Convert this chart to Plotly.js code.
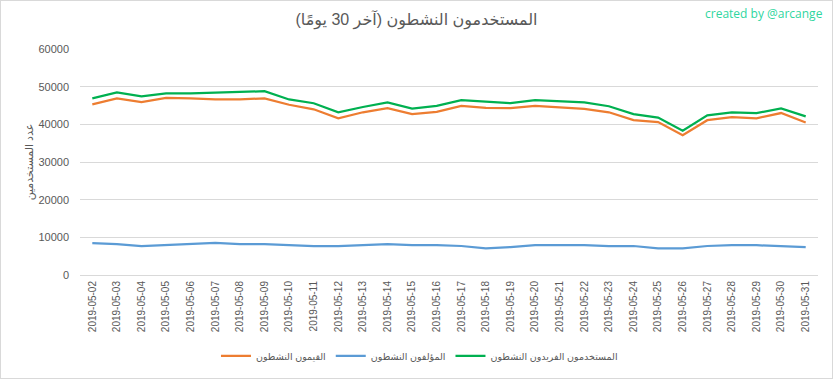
<!DOCTYPE html>
<html>
<head>
<meta charset="utf-8">
<script src="https://cdn.plot.ly/plotly-3.0.1.min.js"></script>
<style>
  html, body { margin: 0; padding: 0; background: #fff; }
  #chart { width: 831px; height: 377px; border: 1px solid #d9d9d9; }
</style>
</head>
<body>
<div id="chart"></div>
<script>
const dates = ["2019-05-02","2019-05-03","2019-05-04","2019-05-05","2019-05-06","2019-05-07","2019-05-08","2019-05-09","2019-05-10","2019-05-11","2019-05-12","2019-05-13","2019-05-14","2019-05-15","2019-05-16","2019-05-17","2019-05-18","2019-05-19","2019-05-20","2019-05-21","2019-05-22","2019-05-23","2019-05-24","2019-05-25","2019-05-26","2019-05-27","2019-05-28","2019-05-29","2019-05-30","2019-05-31"];

const curators = [45300,46900,45900,47000,46900,46600,46600,46900,45200,44000,41600,43200,44300,42700,43300,44900,44400,44300,44900,44600,44100,43200,41100,40600,37100,41100,41900,41600,43000,40500];
const authors = [8480,8200,7700,7900,8200,8500,8200,8200,7900,7700,7700,7900,8200,7900,7900,7700,7100,7400,7900,7900,7900,7700,7700,7100,7100,7700,7900,7900,7700,7400];
const uniqueUsers = [46900,48500,47400,48200,48200,48500,48600,48800,46600,45600,43200,44600,45800,44200,44900,46400,45900,45600,46400,46100,45800,44800,42700,41800,38300,42400,43200,43000,44200,42100];

const seriesNames = ["القيمون النشطون", "المؤلفون النشطون", "المستخدمون الفريدون النشطون"];
const yTicks = [0,10000,20000,30000,40000,50000,60000];

const font = "Liberation Sans, DejaVu Sans, sans-serif";
const gray = "#595959";

const traces = [
  {x: dates, y: curators, name: seriesNames[0], type: "scatter", mode: "lines", line: {color: "#ED7D31", width: 2.25}},
  {x: dates, y: authors, name: seriesNames[1], type: "scatter", mode: "lines", line: {color: "#5B9BD5", width: 2.25}},
  {x: dates, y: uniqueUsers, name: seriesNames[2], type: "scatter", mode: "lines", line: {color: "#00B050", width: 2.25}}
];

const layout = {
  width: 831, height: 377,
  margin: {l: 79, r: 14, t: 48, b: 103, autoexpand: false},
  paper_bgcolor: "#fff", plot_bgcolor: "#fff",
  showlegend: true,
  font: {family: font, color: gray, size: 11},
  title: {text: "المستخدمون النشطون (آخر 30 يومًا)\u200F", font: {size: 16, color: gray, family: font}, x: 0.5, xanchor: "center", y: 0.95, yanchor: "middle", yref: "container"},
  xaxis: {
    type: "category", range: [-0.5, 29.5], tickangle: -90, automargin: false, ticklabelstandoff: 3,
    tickfont: {size: 10, color: gray}, showgrid: false, showline: false, ticks: "", zeroline: false
  },
  yaxis: {
    range: [0, 60000], tickvals: yTicks, ticktext: yTicks.map(String), automargin: false, ticklabelstandoff: 10,
    showgrid: true, gridcolor: "#d9d9d9", gridwidth: 1, zeroline: true, zerolinecolor: "#d9d9d9", zerolinewidth: 1,
    showline: false, ticks: "", tickfont: {size: 11, color: gray},
    title: {text: "عدد المستخدمين", font: {size: 11, color: gray}, standoff: 2}
  },
  legend: {
    orientation: "h", x: 0.46, xanchor: "center", y: -0.358, yanchor: "middle",
    font: {size: 9.5, color: gray}, itemwidth: 30, bgcolor: "rgba(0,0,0,0)"
  },
  annotations: [
    {text: "created by @arcange", xref: "paper", yref: "paper", x: 1.01, xanchor: "right", y: 1.155, yanchor: "middle",
     showarrow: false, font: {size: 12, color: "#2fd6a0", family: "Open Sans, DejaVu Sans, sans-serif"}}
  ]
};

Plotly.newPlot("chart", traces, layout, {displayModeBar: false, staticPlot: true});
</script>
</body>
</html>
